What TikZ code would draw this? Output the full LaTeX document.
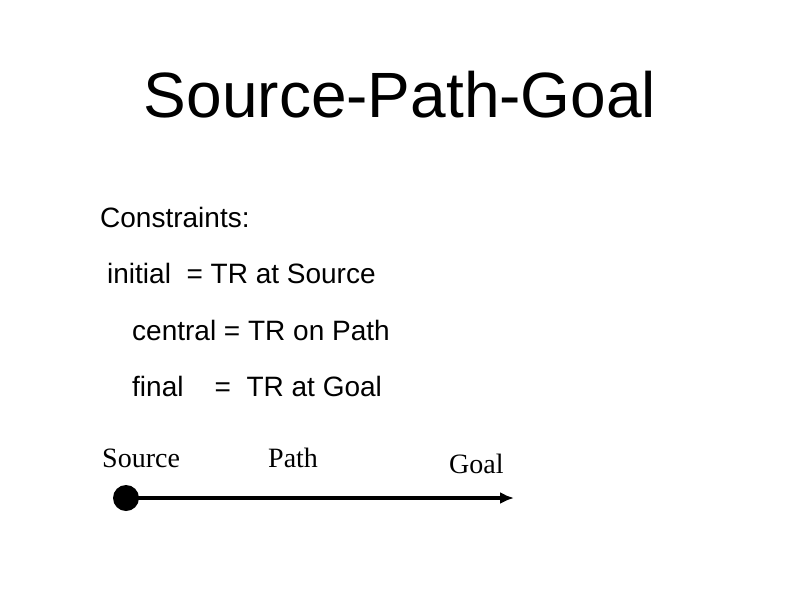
\documentclass[tikz,border=0pt]{standalone}
\usepackage{fontspec}
\setmainfont{Liberation Sans}
\newfontfamily\serifa{Liberation Serif}
\usetikzlibrary{arrows.meta}
\begin{document}
\begin{tikzpicture}[x=1pt,y=-1pt,
  txt/.style={anchor=base west,inner sep=0pt,font=\fontsize{28}{30}\selectfont},
  lbl/.style={anchor=base west,inner sep=0pt,font=\serifa\fontsize{28}{30}\selectfont}]
\useasboundingbox (0,0) rectangle (800,600);
\node[anchor=base,inner sep=0pt,font=\fontsize{64}{70}\selectfont] (title) at (400,117) {Source-Path-Goal};
\node[txt] (c0) at (100,227) {Constraints:};
\node[txt] (c1) at (107,283) {initial\ \ = TR at Source};
\node[txt] (c2) at (132,340) {central = TR on Path};
\node[txt] (c3) at (132,396) {final\ \ \ \ = \ TR at Goal};
\node[lbl] (ls) at (102,467) {Source};
\node[lbl] (lp) at (268,467) {Path};
\node[lbl] (lg) at (449,473) {Goal};
\fill (126,498) circle (13) coordinate (src);
\coordinate (goal) at (514,498);
\draw[line width=4.5pt,-{Latex[length=14pt,width=12pt]}] (src) -- (goal);
\end{tikzpicture}
\end{document}
